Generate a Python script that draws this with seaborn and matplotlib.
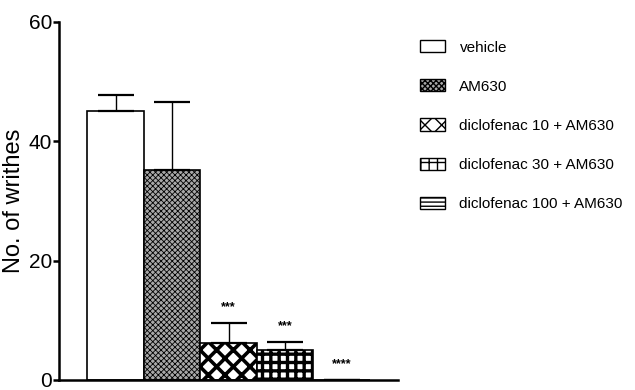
import seaborn as sns
import matplotlib.pyplot as plt
import numpy as np
import pandas as pd
from matplotlib.patches import Patch

groups = ["vehicle", "AM630", "diclofenac 10 + AM630", "diclofenac 30 + AM630", "diclofenac 100 + AM630"]
means = [45.0, 35.1, 6.1, 5.0, 0.0]
sems = [2.7, 11.4, 3.4, 1.4, 0.0]
stars = ["", "", "***", "***", "****"]

data = pd.DataFrame({"group": groups, "writhes": means})

sns.set_style("ticks")
plt.rcParams["font.family"] = ["Liberation Sans", "DejaVu Sans"]
for k in ["text.color", "axes.labelcolor", "xtick.color", "ytick.color", "axes.edgecolor"]:
    plt.rcParams[k] = "black"

fig = plt.figure(figsize=(6.35, 3.9), dpi=100)
ax = fig.add_axes([0.093, 0.026, 0.534, 0.918])

sns.barplot(x="group", y="writhes", data=data, hue="group", legend=False,
            palette=["white"] * 5, width=1.0, edgecolor="black", linewidth=1.2, ax=ax)

# hatch pattern, face colour, hatch line width per group
hatches = ["", "xxxxxx", "xx", "++", "----"]
faces = ["white", "#a8a8a8", "white", "white", "white"]
hlw = [1.0, 0.6, 2.6, 2.4, 1.0]


def style_patch(p, h, f, w):
    p.set_hatch(h)
    p.set_facecolor(f)
    if hasattr(p, "set_hatch_linewidth"):
        p.set_hatch_linewidth(w)


for p, h, f, w in zip(ax.patches, hatches, faces, hlw):
    style_patch(p, h, f, w)

x = np.arange(len(groups))
ax.errorbar(x, means, yerr=[np.zeros(len(sems)), sems], fmt="none",
            ecolor="black", elinewidth=1.0, capsize=13, capthick=1.6)

for xi, m, s, st in zip(x, means, sems, stars):
    if st:
        ax.text(xi, m + s + 1.6, st, ha="center", va="bottom", fontsize=9, fontweight="bold")

ax.set_xlim(-1.0, 5.0)
ax.set_ylim(0, 60)
ax.set_yticks([0, 20, 40, 60])
ax.set_xticks([])
ax.set_xlabel("")
ax.set_ylabel("No. of writhes", fontsize=17, labelpad=3)
ax.tick_params(axis="y", labelsize=15, width=1.8, length=4, pad=1)
for side in ["left", "bottom"]:
    ax.spines[side].set_linewidth(1.8)
sns.despine(ax=ax)

handles = []
for h, f, w in zip(hatches, faces, hlw):
    hp = Patch(facecolor=f, edgecolor="black", linewidth=1.0)
    style_patch(hp, h, f, w)
    handles.append(hp)
fig.legend(handles, groups, loc="upper left", bbox_to_anchor=(0.661, 0.897), frameon=False,
           borderpad=0, borderaxespad=0, fontsize=11, handlelength=1.65, handleheight=0.85,
           labelspacing=1.62, handletextpad=0.95)

fig.savefig("out.png", dpi=100)
